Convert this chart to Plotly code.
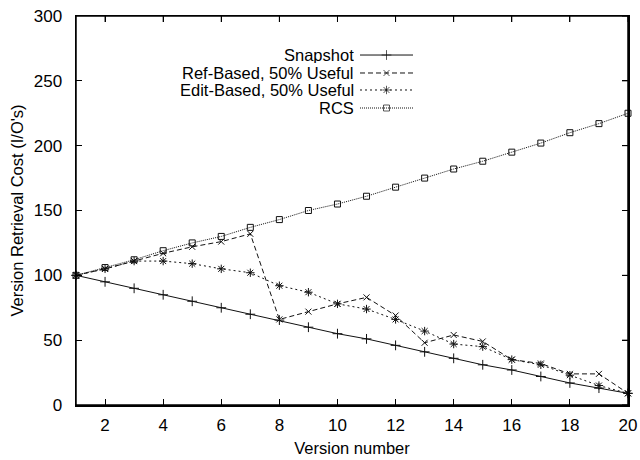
import plotly.graph_objects as go

versions = list(range(1, 21))
snapshot = [100, 95, 90, 85, 80, 75, 70, 65.5, 60, 55, 51, 46, 41, 36, 31, 27, 22, 17, 13, 9]
ref_based = [100, 105, 111, 117, 122, 126, 132, 66, 72, 78, 83, 69, 48, 54, 49, 35, 32, 24, 24, 9]
edit_based = [100, 105, 111, 111, 109, 105, 102, 92, 87, 78, 74, 66, 57, 47, 45, 35, 31, 23, 15, 9]
rcs = [100, 106, 112, 119, 125, 130, 137, 143, 150, 155, 161, 168, 175, 182, 188, 195, 202, 210, 217, 225]

series_names = ["Snapshot", "Ref-Based, 50% Useful", "Edit-Based, 50% Useful", "RCS"]
series_values = [snapshot, ref_based, edit_based, rcs]
x_ticks = [2, 4, 6, 8, 10, 12, 14, 16, 18, 20]
y_ticks = [0, 50, 100, 150, 200, 250, 300]
x_range = [1, 20]
y_range = [0, 300]

styles = [
    dict(dash="solid", symbol="cross-thin-open", size=7),
    dict(dash="5px,3px", symbol="x-thin-open", size=6),
    dict(dash="2px,3px", symbol="asterisk-open", size=7),
    dict(dash="1px,1px", symbol="square-open", size=6),
]
ink = "#111111"
FONT = "Liberation Sans, Arial, Helvetica, sans-serif"
FS = 16.5
W, H = 640, 460
ML, MR, MT, MB = 76, 12, 16, 55
PW, PH = W - ML - MR, H - MT - MB
TICKLEN = 6
FRAME_W = 1.5

fig = go.Figure()
for name, vals, st in zip(series_names, series_values, styles):
    fig.add_trace(go.Scatter(
        x=versions, y=vals, name=name, mode="lines+markers",
        line=dict(color=ink, width=1, dash=st["dash"]),
        marker=dict(symbol=st["symbol"], size=st["size"], color=ink,
                    line=dict(color=ink, width=1)),
        showlegend=False, cliponaxis=False,
    ))

# gnuplot-style legend (text right-aligned, sample to the right)
legend_rows_y = [0.8997, 0.8535, 0.8098, 0.7635]
text_right = 0.5054
sample_x0, sample_xm, sample_x1 = 0.5145, 0.5625, 0.6105
for name, st, yy in zip(series_names, styles, legend_rows_y):
    fig.add_annotation(x=text_right, y=yy, xref="paper", yref="paper",
                       text=name, showarrow=False, xanchor="right", yanchor="middle",
                       height=16, valign="middle", borderpad=0,
                       font=dict(size=FS, color="black", family=FONT))
    fig.add_trace(go.Scatter(
        x=[sample_x0, sample_xm, sample_x1], y=[yy, yy, yy],
        xaxis="x2", yaxis="y2", mode="lines+markers",
        line=dict(color=ink, width=1, dash=st["dash"]),
        marker=dict(symbol=st["symbol"], size=[0, st["size"], 0], color=ink,
                    line=dict(color=ink, width=[0, 1, 0])),
        showlegend=False, hoverinfo="skip",
    ))

# gnuplot border: full frame plus inward ticks on the top and right edges
fig.add_shape(type="rect", xref="paper", yref="paper", x0=0, x1=1, y0=0, y1=1,
              line=dict(color="black", width=FRAME_W), layer="above")
for t in x_ticks:
    fig.add_shape(type="line", xref="x", yref="paper", x0=t, x1=t,
                  y0=1, y1=1 - TICKLEN / PH, line=dict(color="black", width=1), layer="above")
for t in y_ticks:
    fig.add_shape(type="line", xref="paper", yref="y", y0=t, y1=t,
                  x0=1, x1=1 - TICKLEN / PW, line=dict(color="black", width=1), layer="above")

axis_common = dict(showline=True, linecolor="black", linewidth=FRAME_W, mirror="ticks",
                   ticks="inside", ticklen=TICKLEN, tickcolor="black", showgrid=False,
                   zeroline=False, automargin=False,
                   tickfont=dict(size=17, color="black", family=FONT))

fig.update_layout(
    width=W, height=H,
    margin=dict(l=ML, r=MR, t=MT, b=MB),
    paper_bgcolor="white", plot_bgcolor="rgba(0,0,0,0)",
    font=dict(family=FONT, color="black", size=FS),
    xaxis=dict(range=x_range, tickvals=x_ticks, ticklabelstandoff=4,
               title=dict(text="Version number", font=dict(size=FS), standoff=8),
               **axis_common),
    yaxis=dict(range=y_range, tickvals=y_ticks, ticklabelstandoff=9,
               title=dict(text="Version Retrieval Cost (I/O's)", font=dict(size=FS), standoff=6),
               **axis_common),
    # separate, invisible subplot in the same area that holds the legend samples
    xaxis2=dict(domain=[0, 1], anchor="y2", range=[0, 1], visible=False, fixedrange=True),
    yaxis2=dict(domain=[0, 1], anchor="x2", range=[0, 1], visible=False, fixedrange=True),
)

fig.write_html(
    "out.html",
    config={"displayModeBar": False, "staticPlot": True},
    post_script="document.body.style.margin='0';document.body.style.overflow='hidden';",
)
